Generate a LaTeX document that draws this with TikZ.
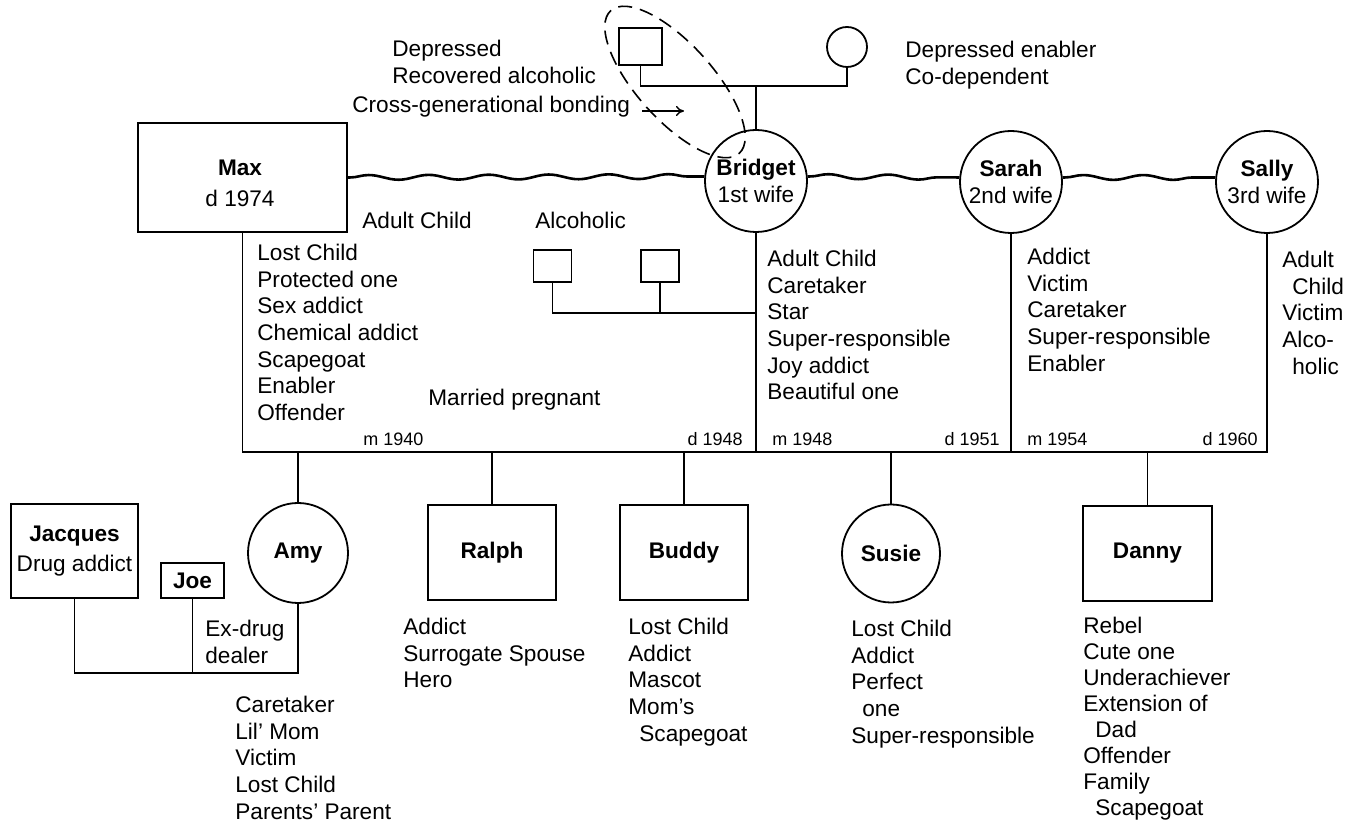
\documentclass[tikz,border=0pt]{standalone}
\usepackage{fontspec}
\setmainfont{Liberation Sans}
\usetikzlibrary{decorations.pathmorphing,arrows.meta}
\tikzset{
  every node/.style={font=\fontsize{11.3pt}{13.3pt}\selectfont},
  ln/.style={line width=0.9pt},
  sq/.style={draw, line width=0.9pt, rectangle, inner sep=0pt},
  circ/.style={draw, line width=0.9pt, circle, inner sep=0pt, align=center},
  lab/.style={align=left, inner sep=0pt, anchor=north west},
  labw/.style={inner sep=0pt, anchor=west},
  smallw/.style={font=\fontsize{9pt}{11pt}\selectfont, inner sep=0pt, anchor=west},
  smalle/.style={font=\fontsize{9pt}{11pt}\selectfont, inner sep=0pt, anchor=east},
  wave/.style={line width=1.3pt, decorate, decoration={snake, amplitude=1.2pt, segment length=30pt, pre length=1pt, post length=1pt}},
  oval/.style={line width=0.8pt, dash pattern=on 7pt off 4pt},
  nm/.style={font=\fontsize{11.3pt}{13.3pt}\selectfont\bfseries}
}
\begin{document}
\begin{tikzpicture}[x=0.5pt,y=-0.5pt]
\useasboundingbox[fill=white] (0,0) rectangle (1345,822);

% grandparents
\node[sq, minimum width=21.5pt, minimum height=18.5pt] (gf) at (640.5,46.5) {};
\node[circ, minimum size=20pt] (gm) at (847,47) {};
\coordinate (gpbar) at (756,86);
\draw[ln] (gf.south) |- (gpbar) -| (gm.south);

\node[lab] (depr) at (392,40) {Depressed\\Recovered alcoholic};
\node[lab] (gmlab) at (905,41) {Depressed enabler\\Co-dependent};
\node[labw] (bond) at (352,107) {Cross-generational bonding};
\coordinate (bondtip) at (684,111);
\draw[line width=0.7pt, -{To[length=4pt,width=5pt]}] ([xshift=6pt]bond.east |- bondtip) -- (bondtip);

% parents generation
\node[sq, minimum width=104.5pt, minimum height=54.5pt] (Max) at (242.5,177.5) {};
\node[align=center, inner sep=0pt] (maxtxt) at (240,183) {\textbf{Max}\\[2.2pt]d 1974};
\node[circ, minimum size=51pt] (Bridget) at (756,181) {\textbf{Bridget}\\1st wife};
\node[circ, minimum size=51pt] (Sarah) at (1011,182) {\textbf{Sarah}\\2nd wife};
\node[circ, minimum size=51pt] (Sally) at (1267,182) {\textbf{Sally}\\3rd wife};

\draw[ln] (gpbar) -- (Bridget.north);

\draw[wave] (Max.east) -- (Bridget.175);
\draw[wave] (Bridget.5) -- (Sarah.175);
\draw[wave] (Sarah.5) -- (Sally.175);

% cross-generational oval
\draw[oval, rotate around={-48:(675,82)}] (675,82) ellipse [x radius=48pt, y radius=19pt];

% alcoholic siblings
\node[sq, minimum width=19pt, minimum height=16pt] (alc1) at (552.5,266) {};
\node[sq, minimum width=19pt, minimum height=16pt] (alc2) at (660,266) {};
\coordinate (alcj) at (756,313);
\draw[ln] (alc1.south) |- (alcj);
\draw[ln] (alc2.south) -- (alc2.south |- alcj);

% marriage bar
\coordinate (barL) at (242.5,452);
\coordinate (barR) at (1267,452);
\draw[ln] (Max.south) -- (barL) -- (barR) -- (Sally.south);
\draw[ln] (Bridget.south) -- (Bridget.south |- barL);
\draw[ln] (Sarah.south) -- (Sarah.south |- barL);

% labels of parents
\node[labw] (maxac) at (362,220) {Adult Child};
\node[labw] (alclab) at (535,220) {Alcoholic};
\node[lab] (maxroles) at (257,244) {Lost Child\\Protected one\\Sex addict\\Chemical addict\\Scapegoat\\Enabler\\Offender};
\node[labw] (preg) at (428,400) {Married pregnant};
\node[lab] (broles) at (767,250) {Adult Child\\Caretaker\\Star\\Super-responsible\\Joy addict\\Beautiful one};
\node[lab] (saroles) at (1027,248) {Addict\\Victim\\Caretaker\\Super-responsible\\Enabler};
\node[lab] (slroles) at (1282,251) {Adult\\\hspace*{5pt}Child\\Victim\\Alco-\\\hspace*{5pt}holic};

\node[smallw] (m1940) at (363,439) {m 1940};
\node[smalle] (d1948) at (743,439) {d 1948};
\node[smallw] (m1948) at (772,439) {m 1948};
\node[smalle] (d1951) at (1000,439) {d 1951};
\node[smallw] (m1954) at (1027,439) {m 1954};
\node[smalle] (d1960) at (1258,439) {d 1960};

% children
\node[circ, minimum size=50pt, nm] (Amy) at (298,553) {Amy};
\node[sq, minimum width=64pt, minimum height=47.5pt, nm] (Ralph) at (492,552.5) {Ralph};
\node[sq, minimum width=64pt, minimum height=47.5pt, nm] (Buddy) at (684,552.5) {Buddy};
\node[circ, minimum size=49pt, nm] (Susie) at (891,553.5) {Susie};
\node[sq, minimum width=64.5pt, minimum height=47.5pt, nm] (Danny) at (1147.5,553.5) {Danny};

\draw[ln] (Amy.north) -- (Amy.north |- barL);
\draw[ln] (Ralph.north) -- (Ralph.north |- barL);
\draw[ln] (Buddy.north) -- (Buddy.north |- barL);
\draw[ln] (Susie.north) -- (Susie.north |- barL);
\draw[ln] (Danny.north) -- (Danny.north |- barL);

% Amy's partners
\node[sq, minimum width=63.5pt, minimum height=47pt, align=center] (Jacques) at (74.5,551) {\textbf{Jacques}\\[2pt]Drug addict};
\node[sq, minimum width=31.5pt, minimum height=17.5pt, nm] (Joe) at (192.5,580.5) {Joe};
\coordinate (ajb) at (298,673);
\draw[ln] (Jacques.south) |- (ajb) -- (Amy.south);
\draw[ln] (Joe.south) -- (Joe.south |- ajb);
\node[lab] (exdrug) at (205,620) {Ex-drug\\dealer};

% children roles
\node[lab] (amyroles) at (235,696) {Caretaker\\Lil’ Mom\\Victim\\Lost Child\\Parents’ Parent};
\node[lab] (ralphroles) at (403,618) {Addict\\Surrogate Spouse\\Hero};
\node[lab] (buddyroles) at (628,618) {Lost Child\\Addict\\Mascot\\Mom’s\\\hspace*{5.5pt}Scapegoat};
\node[lab] (susieroles) at (851,620) {Lost Child\\Addict\\Perfect\\\hspace*{5.5pt}one\\Super-responsible};
\node[lab, font=\fontsize{11.3pt}{13pt}\selectfont] (dannyroles) at (1083,617) {Rebel\\Cute one\\Underachiever\\Extension of\\\hspace*{6pt}Dad\\Offender\\Family\\\hspace*{6pt}Scapegoat};
\end{tikzpicture}
\end{document}
